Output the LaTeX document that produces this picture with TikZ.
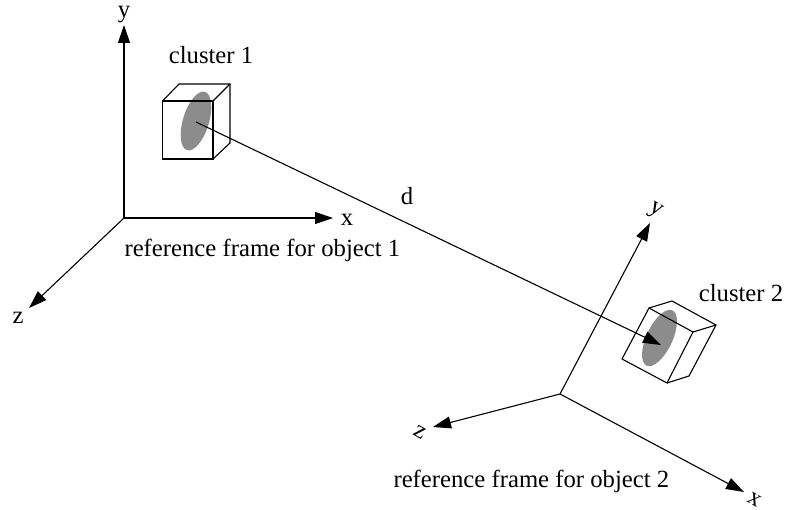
\documentclass[tikz,border=0pt]{standalone}
\usepackage{fontspec}
\setmainfont{Liberation Serif}
\usetikzlibrary{arrows.meta}

\begin{document}
\begin{tikzpicture}[
  x=1pt, y=-1pt,
  font=\fontsize{24.7}{28}\selectfont,
  line width=1.1pt,
  >={Triangle[length=18pt,width=12pt]},
  lbl/.style={inner sep=0pt},
  arr/.style={->, line width=1.1pt},
  blob/.style={fill=black!45, draw=none},
]
\useasboundingbox (0,0) rectangle (786,510);
% first frame
\coordinate (orig1) at (124,218);
\node[lbl] (y1) at (124,15) {y};
\node[lbl] (x1) at (347,220) {x};
\node[lbl] (z1) at (18,318) {z};
\coordinate (y1tip) at (124,25);
\coordinate (x1tip) at (333,218);
\coordinate (z1tip) at (29,308);
\draw[arr] (orig1) -- (y1tip);
\draw[arr] (orig1) -- (x1tip);
\draw[arr] (orig1) -- (z1tip);
\node[lbl, anchor=west] (frame1) at (124,250) {reference frame for object 1};
% second frame
\coordinate (orig2) at (560,394);
\node[lbl, rotate=-30] (y2) at (655,211) {y};
\node[lbl, rotate=-30] (x2) at (755,500) {x};
\node[lbl, rotate=-30] (z2) at (420,432) {z};
\coordinate (y2tip) at (650,223);
\coordinate (x2tip) at (744,492);
\coordinate (z2tip) at (433,427);
\draw[arr] (orig2) -- (y2tip);
\draw[arr] (orig2) -- (x2tip);
\draw[arr] (orig2) -- (z2tip);
\node[lbl, anchor=west] (frame2) at (393,481) {reference frame for object 2};
% clusters
\fill[blob] (196,121) ellipse[x radius=30.5, y radius=13, rotate=73];
\draw (162.5,101) rectangle (213,159);
\draw (162.5,101) -- (179,84) -- (230,84) -- (230,143) -- (213,159);
\draw (213,101) -- (230,84);
\node[lbl] (cl1) at (211,55) {cluster 1};
\fill[blob] (659.5,338) ellipse[x radius=30.5, y radius=13, rotate=65];
\draw (649,308) -- (693,332) -- (667,383) -- (622,359) -- cycle;
\draw (649,308) -- (672,301) -- (716,325) -- (689,376) -- (667,383);
\draw (693,332) -- (716,325);
\node[lbl] (cl2) at (741,293) {cluster 2};
% distance
\coordinate (c1) at (196,122);
\coordinate (c2) at (661,345);
\draw[arr] (c1) -- (c2);
\node[lbl] (dist) at (407,196) {d};
\end{tikzpicture}
\end{document}
